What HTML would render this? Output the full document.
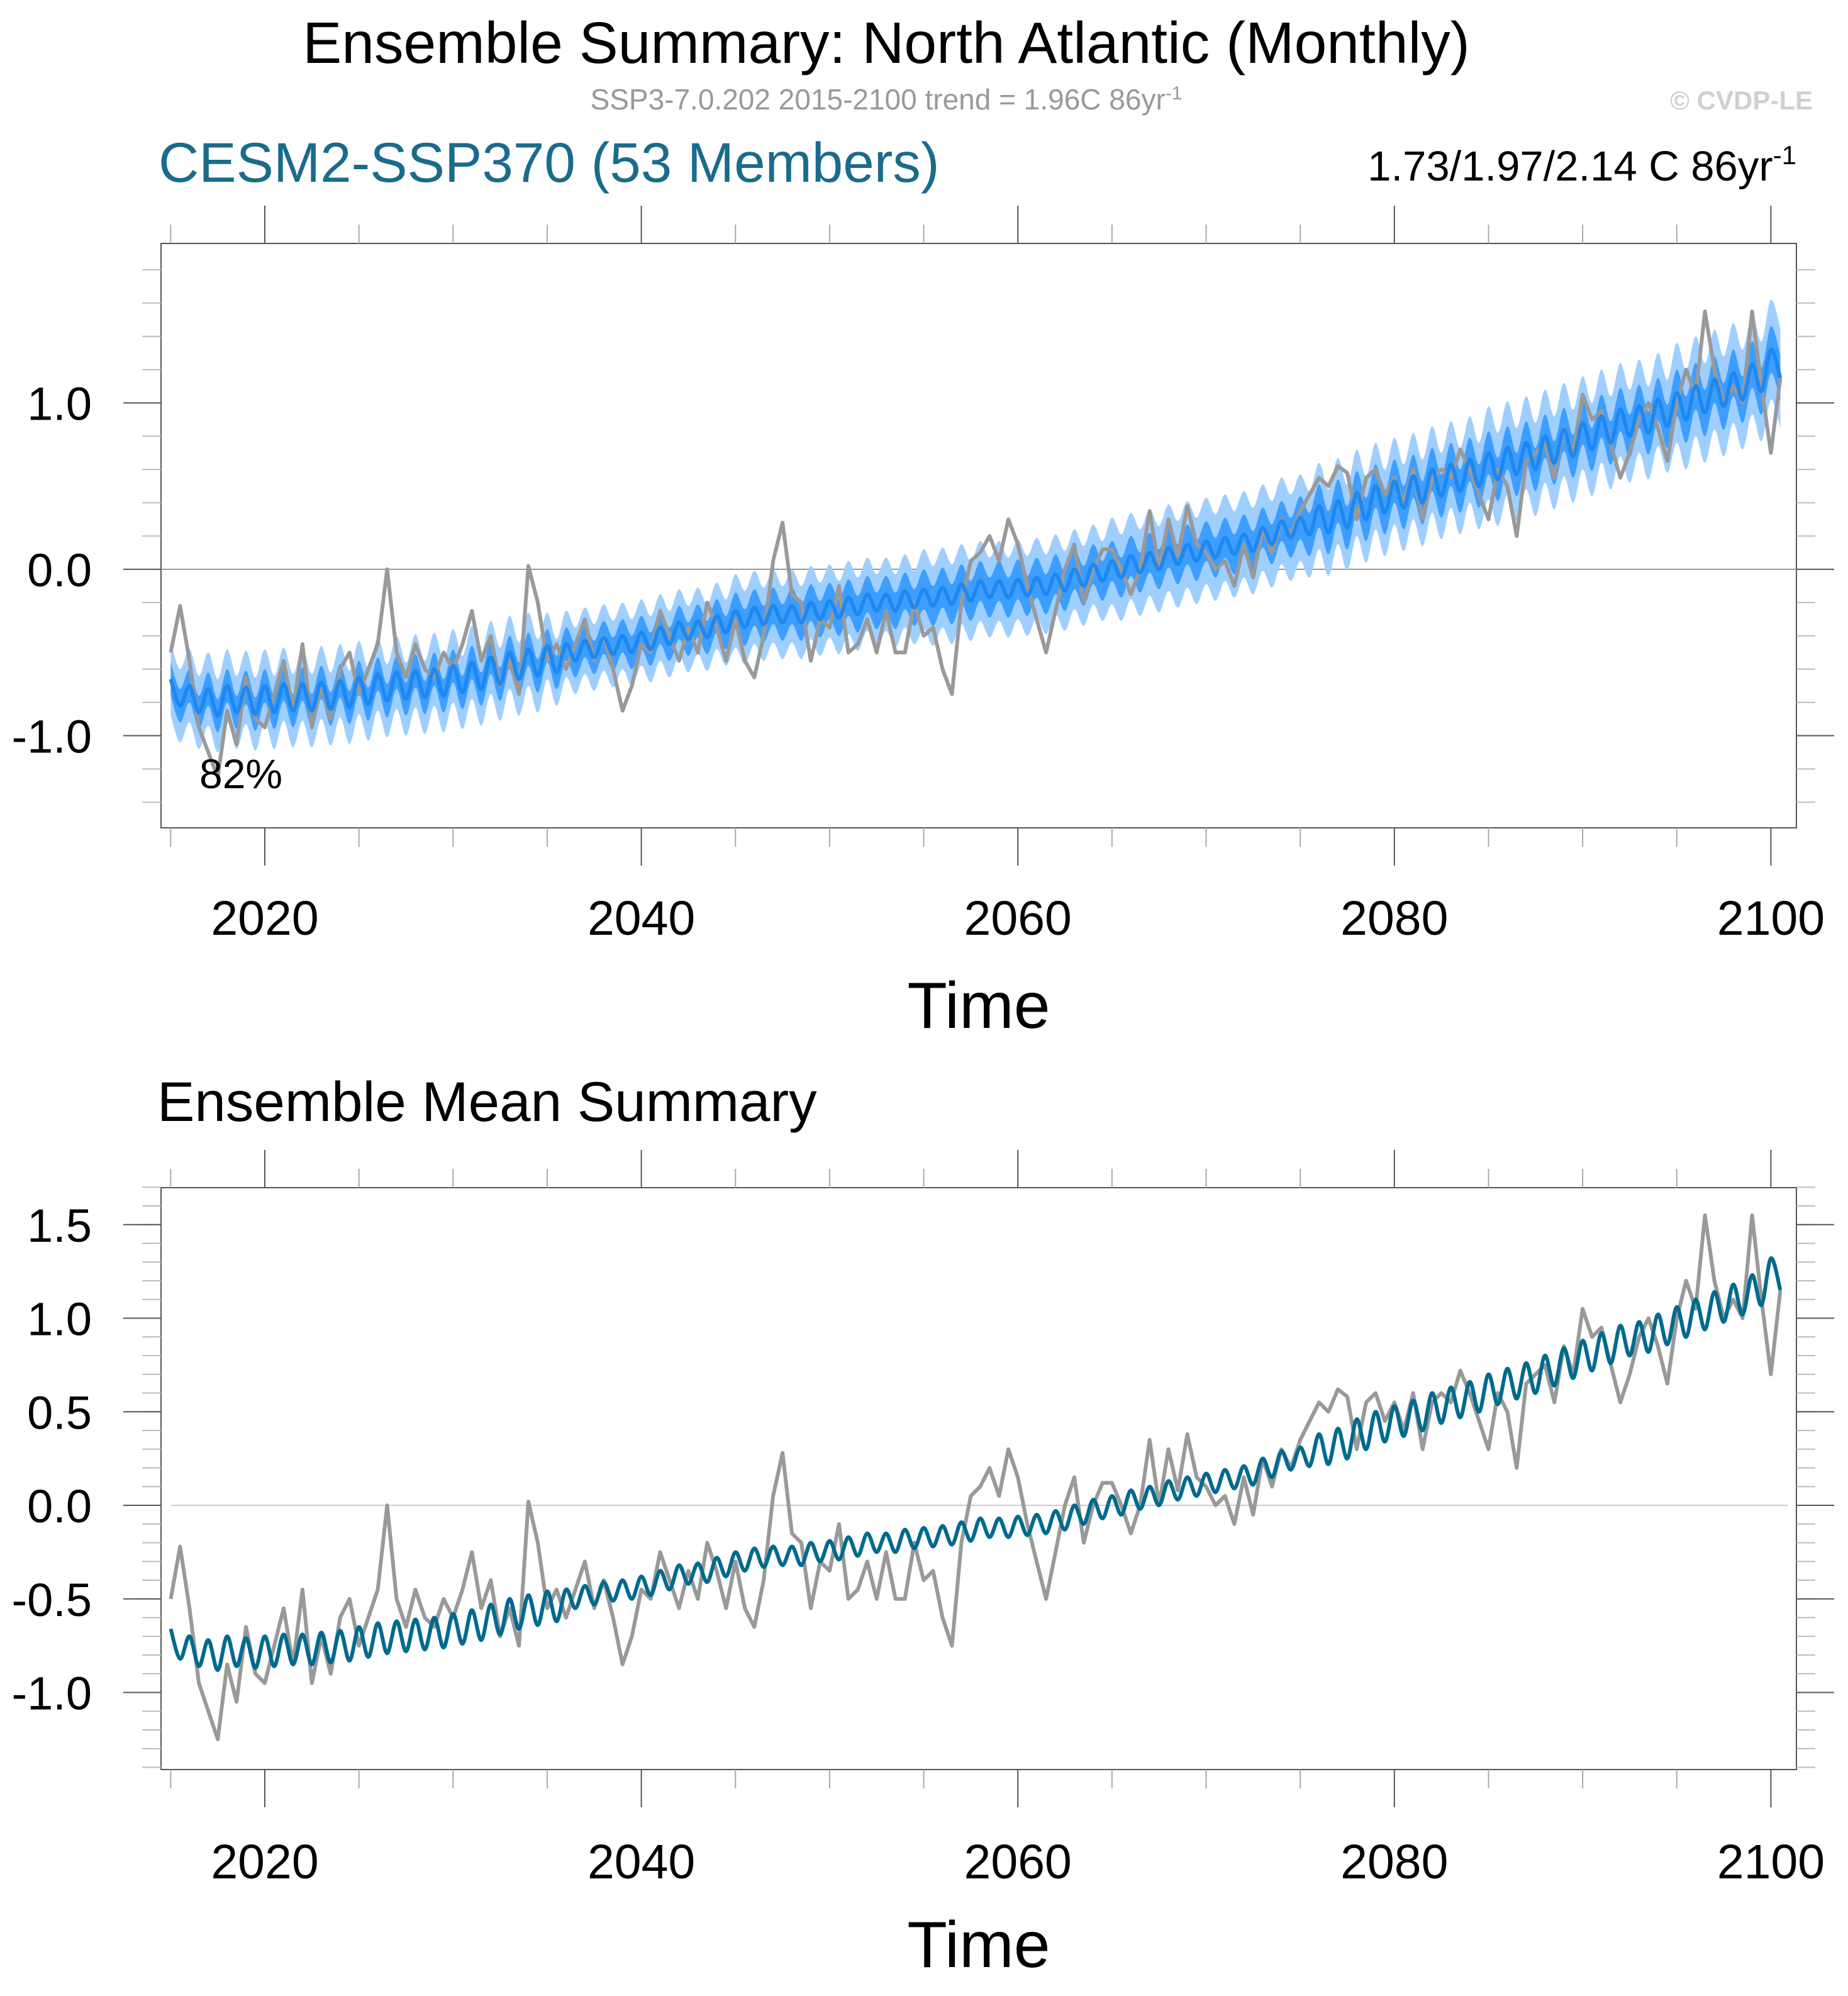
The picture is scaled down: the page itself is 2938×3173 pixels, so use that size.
<!DOCTYPE html>
<html><head><meta charset="utf-8">
<style>
html,body{margin:0;padding:0;background:#fff;}
svg{display:block;font-family:"Liberation Sans",Arial,sans-serif;}
</style></head>
<body>
<svg id="chart" width="2938" height="3173" viewBox="0 0 2938 3173" xmlns="http://www.w3.org/2000/svg">
<text x="1409" y="100" font-size="93" text-anchor="middle" fill="#000">Ensemble Summary: North Atlantic (Monthly)</text>
<text x="1409" y="174" font-size="46" text-anchor="middle" fill="#999">SSP3-7.0.202 2015-2100 trend = 1.96C 86yr<tspan dy="-16" font-size="30">-1</tspan></text>
<text x="2882" y="174" font-size="42" font-weight="bold" text-anchor="end" fill="#d0d0d0">© CVDP-LE</text>
<text x="252" y="289" font-size="89" fill="#1a6b8c">CESM2-SSP370 (53 Members)</text>
<text x="2856" y="287" font-size="67" text-anchor="end" fill="#000">1.73/1.97/2.14 C 86yr<tspan dy="-26" font-size="42">-1</tspan></text>
<text x="250" y="1782" font-size="89" fill="#000">Ensemble Mean Summary</text>
<g id="p1"></g>
<g id="p2"></g>
</svg>
<script>
// ---- data ----
const years = [2020, 2040, 2060, 2080, 2100];
const xTickLabels = ["2020", "2040", "2060", "2080", "2100"];
const y1Ticks = [-1.0, 0.0, 1.0];
const y1TickLabels = ["-1.0", "0.0", "1.0"];
const y2Ticks = [-1.0, -0.5, 0.0, 0.5, 1.0, 1.5];
const y2TickLabels = ["-1.0", "-0.5", "0.0", "0.5", "1.0", "1.5"];
const startYear = 2015;
// ensemble mean, two values per year
const ensMean = [
-0.66,-0.82,-0.70,-0.86,-0.72,-0.88,-0.70,-0.86,-0.71,-0.87,-0.70,-0.86,-0.69,-0.85,-0.69,-0.85,-0.68,-0.84,-0.67,-0.83,
-0.65,-0.81,-0.63,-0.79,-0.62,-0.78,-0.61,-0.77,-0.60,-0.76,-0.58,-0.74,-0.56,-0.72,-0.53,-0.69,-0.50,-0.66,-0.48,-0.64,
-0.46,-0.62,-0.45,-0.55,-0.43,-0.53,-0.41,-0.51,-0.40,-0.50,-0.38,-0.48,-0.35,-0.45,-0.32,-0.42,-0.31,-0.41,-0.28,-0.38,
-0.25,-0.35,-0.23,-0.33,-0.22,-0.32,-0.22,-0.32,-0.20,-0.30,-0.19,-0.29,-0.17,-0.27,-0.15,-0.25,-0.15,-0.25,-0.13,-0.23,
-0.12,-0.22,-0.11,-0.21,-0.09,-0.19,-0.07,-0.17,-0.07,-0.17,-0.06,-0.16,-0.05,-0.15,-0.03,-0.13,0.00,-0.10,0.03,-0.07,
0.05,-0.05,0.08,-0.02,0.10,0.00,0.13,0.03,0.15,0.05,0.17,0.07,0.19,0.09,0.21,0.11,0.25,0.15,0.29,0.19,
0.31,0.21,0.38,0.22,0.41,0.25,0.46,0.30,0.50,0.34,0.53,0.37,0.56,0.40,0.60,0.44,0.63,0.47,0.66,0.50,
0.70,0.54,0.73,0.57,0.76,0.60,0.80,0.64,0.84,0.68,0.88,0.72,0.92,0.76,0.96,0.80,0.98,0.82,1.02,0.86,
1.06,0.90,1.10,0.94,1.14,0.98,1.18,1.02,1.23,1.07,1.32,1.15];
// single member (gray), two values per year
const member = [
-0.50,-0.22,-0.55,-0.95,-1.10,-1.25,-0.85,-1.05,-0.65,-0.90,-0.95,-0.75,-0.55,-0.85,-0.45,-0.95,-0.70,-0.90,-0.60,-0.50,
-0.75,-0.60,-0.45,0.00,-0.50,-0.65,-0.45,-0.60,-0.65,-0.50,-0.60,-0.45,-0.25,-0.55,-0.40,-0.70,-0.55,-0.75,0.02,-0.20,
-0.55,-0.45,-0.60,-0.45,-0.30,-0.55,-0.40,-0.60,-0.85,-0.70,-0.45,-0.50,-0.25,-0.40,-0.55,-0.35,-0.50,-0.20,-0.35,-0.55,
-0.30,-0.55,-0.65,-0.40,0.05,0.28,-0.15,-0.20,-0.55,-0.30,-0.35,-0.10,-0.50,-0.45,-0.30,-0.50,-0.25,-0.50,-0.50,-0.20,
-0.40,-0.35,-0.60,-0.75,-0.20,0.05,0.10,0.20,0.05,0.30,0.15,-0.10,-0.30,-0.50,-0.25,0.00,0.15,-0.20,0.00,0.12,
0.12,0.00,-0.15,0.00,0.35,0.00,0.30,0.08,0.38,0.15,0.10,0.00,0.05,-0.10,0.15,-0.05,0.25,0.10,0.30,0.20,
0.35,0.45,0.55,0.50,0.62,0.58,0.30,0.55,0.60,0.45,0.55,0.40,0.60,0.30,0.55,0.60,0.55,0.72,0.60,0.45,
0.30,0.60,0.50,0.20,0.65,0.70,0.75,0.55,0.85,0.70,1.05,0.90,0.95,0.75,0.55,0.70,0.90,1.00,0.85,0.65,
1.00,1.20,1.05,1.55,1.20,1.00,1.10,1.00,1.55,1.10,0.70,1.15];
// ensemble spread half-widths, one per decade from 2015
const innerSpread = [0.10,0.10,0.10,0.11,0.12,0.12,0.13,0.13,0.14];
const outerSpread = [0.22,0.22,0.20,0.22,0.24,0.26,0.26,0.28,0.30];

const NS = "http://www.w3.org/2000/svg";
function mk(parent, tag, attrs) {
  const e = document.createElementNS(NS, tag);
  for (const k in attrs) e.setAttribute(k, attrs[k]);
  parent.appendChild(e);
  return e;
}
const X0 = 256, X1 = 2856;
function xs(t) { return 421 + (t - 2020) * 29.93; }

// Catmull-Rom smooth path through points
function smooth(p, move) {
  let d = (move ? "M" : "L") + p[0][0].toFixed(1) + "," + p[0][1].toFixed(1);
  for (let i = 0; i < p.length - 1; i++) {
    const p0 = p[Math.max(0, i - 1)], p1 = p[i], p2 = p[i + 1], p3 = p[Math.min(p.length - 1, i + 2)];
    const c1x = p1[0] + (p2[0] - p0[0]) / 6, c1y = p1[1] + (p2[1] - p0[1]) / 6;
    const c2x = p2[0] - (p3[0] - p1[0]) / 6, c2y = p2[1] - (p3[1] - p1[1]) / 6;
    d += "C" + c1x.toFixed(1) + "," + c1y.toFixed(1) + " " + c2x.toFixed(1) + "," + c2y.toFixed(1) + " " + p2[0].toFixed(1) + "," + p2[1].toFixed(1);
  }
  return d;
}

function drawPanel(g, cfg) {
  const ys = v => cfg.zeroY - v * cfg.ppu;
  const fr = mk(g, "rect", {x: X0, y: cfg.top, width: X1 - X0, height: cfg.bottom - cfg.top, fill: "none", stroke: "#555", "stroke-width": 2});
  
  
  for (let yr = 2015; yr <= 2100; yr += 5) {
    const major = yr % 20 === 0;
    const L = major ? 60 : 30;
    const col = major ? "#555" : "#aaa";
    const x = xs(yr);
    const t1 = mk(g, "line", {x1: x, x2: x, y1: cfg.top - L, y2: cfg.top, stroke: col, "stroke-width": 2});
    
    
    const t2 = mk(g, "line", {x1: x, x2: x, y1: cfg.bottom, y2: cfg.bottom + L, stroke: col, "stroke-width": 2});
    
    
  }
  years.forEach((yr, i) => {
    const t = mk(g, "text", {x: xs(yr), y: cfg.xLabelY, "font-size": 77, "text-anchor": "middle", fill: "#000"});
    t.textContent = xTickLabels[i];
    
    
  });
  const tt = mk(g, "text", {x: 1556, y: cfg.timeY, "font-size": 104, "text-anchor": "middle", fill: "#000"});
  tt.textContent = "Time";
  
  
  for (let v = cfg.minorStart; v <= cfg.vmax + 1e-9; v += cfg.minorStep) {
    const y = ys(v);
    if (y < cfg.top - 1 || y > cfg.bottom + 1) continue;
    const m1 = mk(g, "line", {x1: X0 - 30, x2: X0, y1: y, y2: y, stroke: "#bbb", "stroke-width": 2});
    
    
    const m2 = mk(g, "line", {x1: X1, x2: X1 + 30, y1: y, y2: y, stroke: "#bbb", "stroke-width": 2});
    
    
  }
  cfg.ticks.forEach((v, i) => {
    const y = ys(v);
    const a = mk(g, "line", {x1: X0 - 60, x2: X0, y1: y, y2: y, stroke: "#555", "stroke-width": 2});
    
    
    const b = mk(g, "line", {x1: X1, x2: X1 + 60, y1: y, y2: y, stroke: "#555", "stroke-width": 2});
    
    
    const t = mk(g, "text", {x: 146, y: y + 27, "font-size": 74, "text-anchor": "end", fill: "#000"});
    t.textContent = cfg.labels[i];
    
    
  });
  const z = mk(g, "line", {x1: cfg.zeroFull ? X0 : xs(2015), x2: cfg.zeroFull ? X1 : xs(2100.9), y1: ys(0), y2: ys(0), stroke: cfg.zeroCol, "stroke-width": 2});
  
  
  return ys;
}

function pts(arr, ys) {
  return arr.map((v, i) => xs(startYear + i / 2).toFixed(1) + "," + ys(v).toFixed(1));
}
function ptArr(arr, ys, off) {
  return arr.map((v, i) => [xs(startYear + i / 2), ys(v + (off ? off(i) : 0))]);
}
function bandPath(ys, spread) {
  const sp = i => spread[Math.min(spread.length - 1, Math.floor(i / 20))];
  const up = ptArr(ensMean, ys, i => sp(i));
  const lo = ptArr(ensMean, ys, i => -sp(i)).reverse();
  return smooth(up, true) + smooth(lo, false) + "Z";
}

// top panel
const g1 = document.getElementById("p1");
const ys1 = drawPanel(g1, {top: 387, bottom: 1316, zeroY: 905, ppu: 264.5, vmax: 1.96, minorStart: -1.6, minorStep: 0.2,
  ticks: y1Ticks, labels: y1TickLabels, xLabelY: 1486, timeY: 1634, zeroFull: true, zeroCol: "#999"});
const ob = mk(g1, "path", {d: bandPath(ys1, outerSpread), fill: "#9fcfff", stroke: "none"});


const ib = mk(g1, "path", {d: bandPath(ys1, innerSpread), fill: "#3d9eff", stroke: "none"});


const gm1 = mk(g1, "polyline", {points: pts(member, ys1).join(" "), fill: "none", stroke: "#999", "stroke-width": 6, "stroke-linejoin": "round"});


const em1 = mk(g1, "path", {d: smooth(ptArr(ensMean, ys1), true), fill: "none", stroke: "#1e88f0", "stroke-width": 6, "stroke-linejoin": "round"});


const pct = mk(g1, "text", {x: 317, y: 1253, "font-size": 66, fill: "#000"});
pct.textContent = "82%";



// bottom panel
const g2 = document.getElementById("p2");
const ys2 = drawPanel(g2, {top: 1888, bottom: 2813, zeroY: 2393, ppu: 297.5, vmax: 1.7, minorStart: -1.4, minorStep: 0.1,
  ticks: y2Ticks, labels: y2TickLabels, xLabelY: 2986, timeY: 3127, zeroFull: false, zeroCol: "#ccc"});
const gm2 = mk(g2, "polyline", {points: pts(member, ys2).join(" "), fill: "none", stroke: "#999", "stroke-width": 6, "stroke-linejoin": "round"});


const em2 = mk(g2, "path", {d: smooth(ptArr(ensMean, ys2), true), fill: "none", stroke: "#006a8e", "stroke-width": 6, "stroke-linejoin": "round"});


</script>
</body></html>
